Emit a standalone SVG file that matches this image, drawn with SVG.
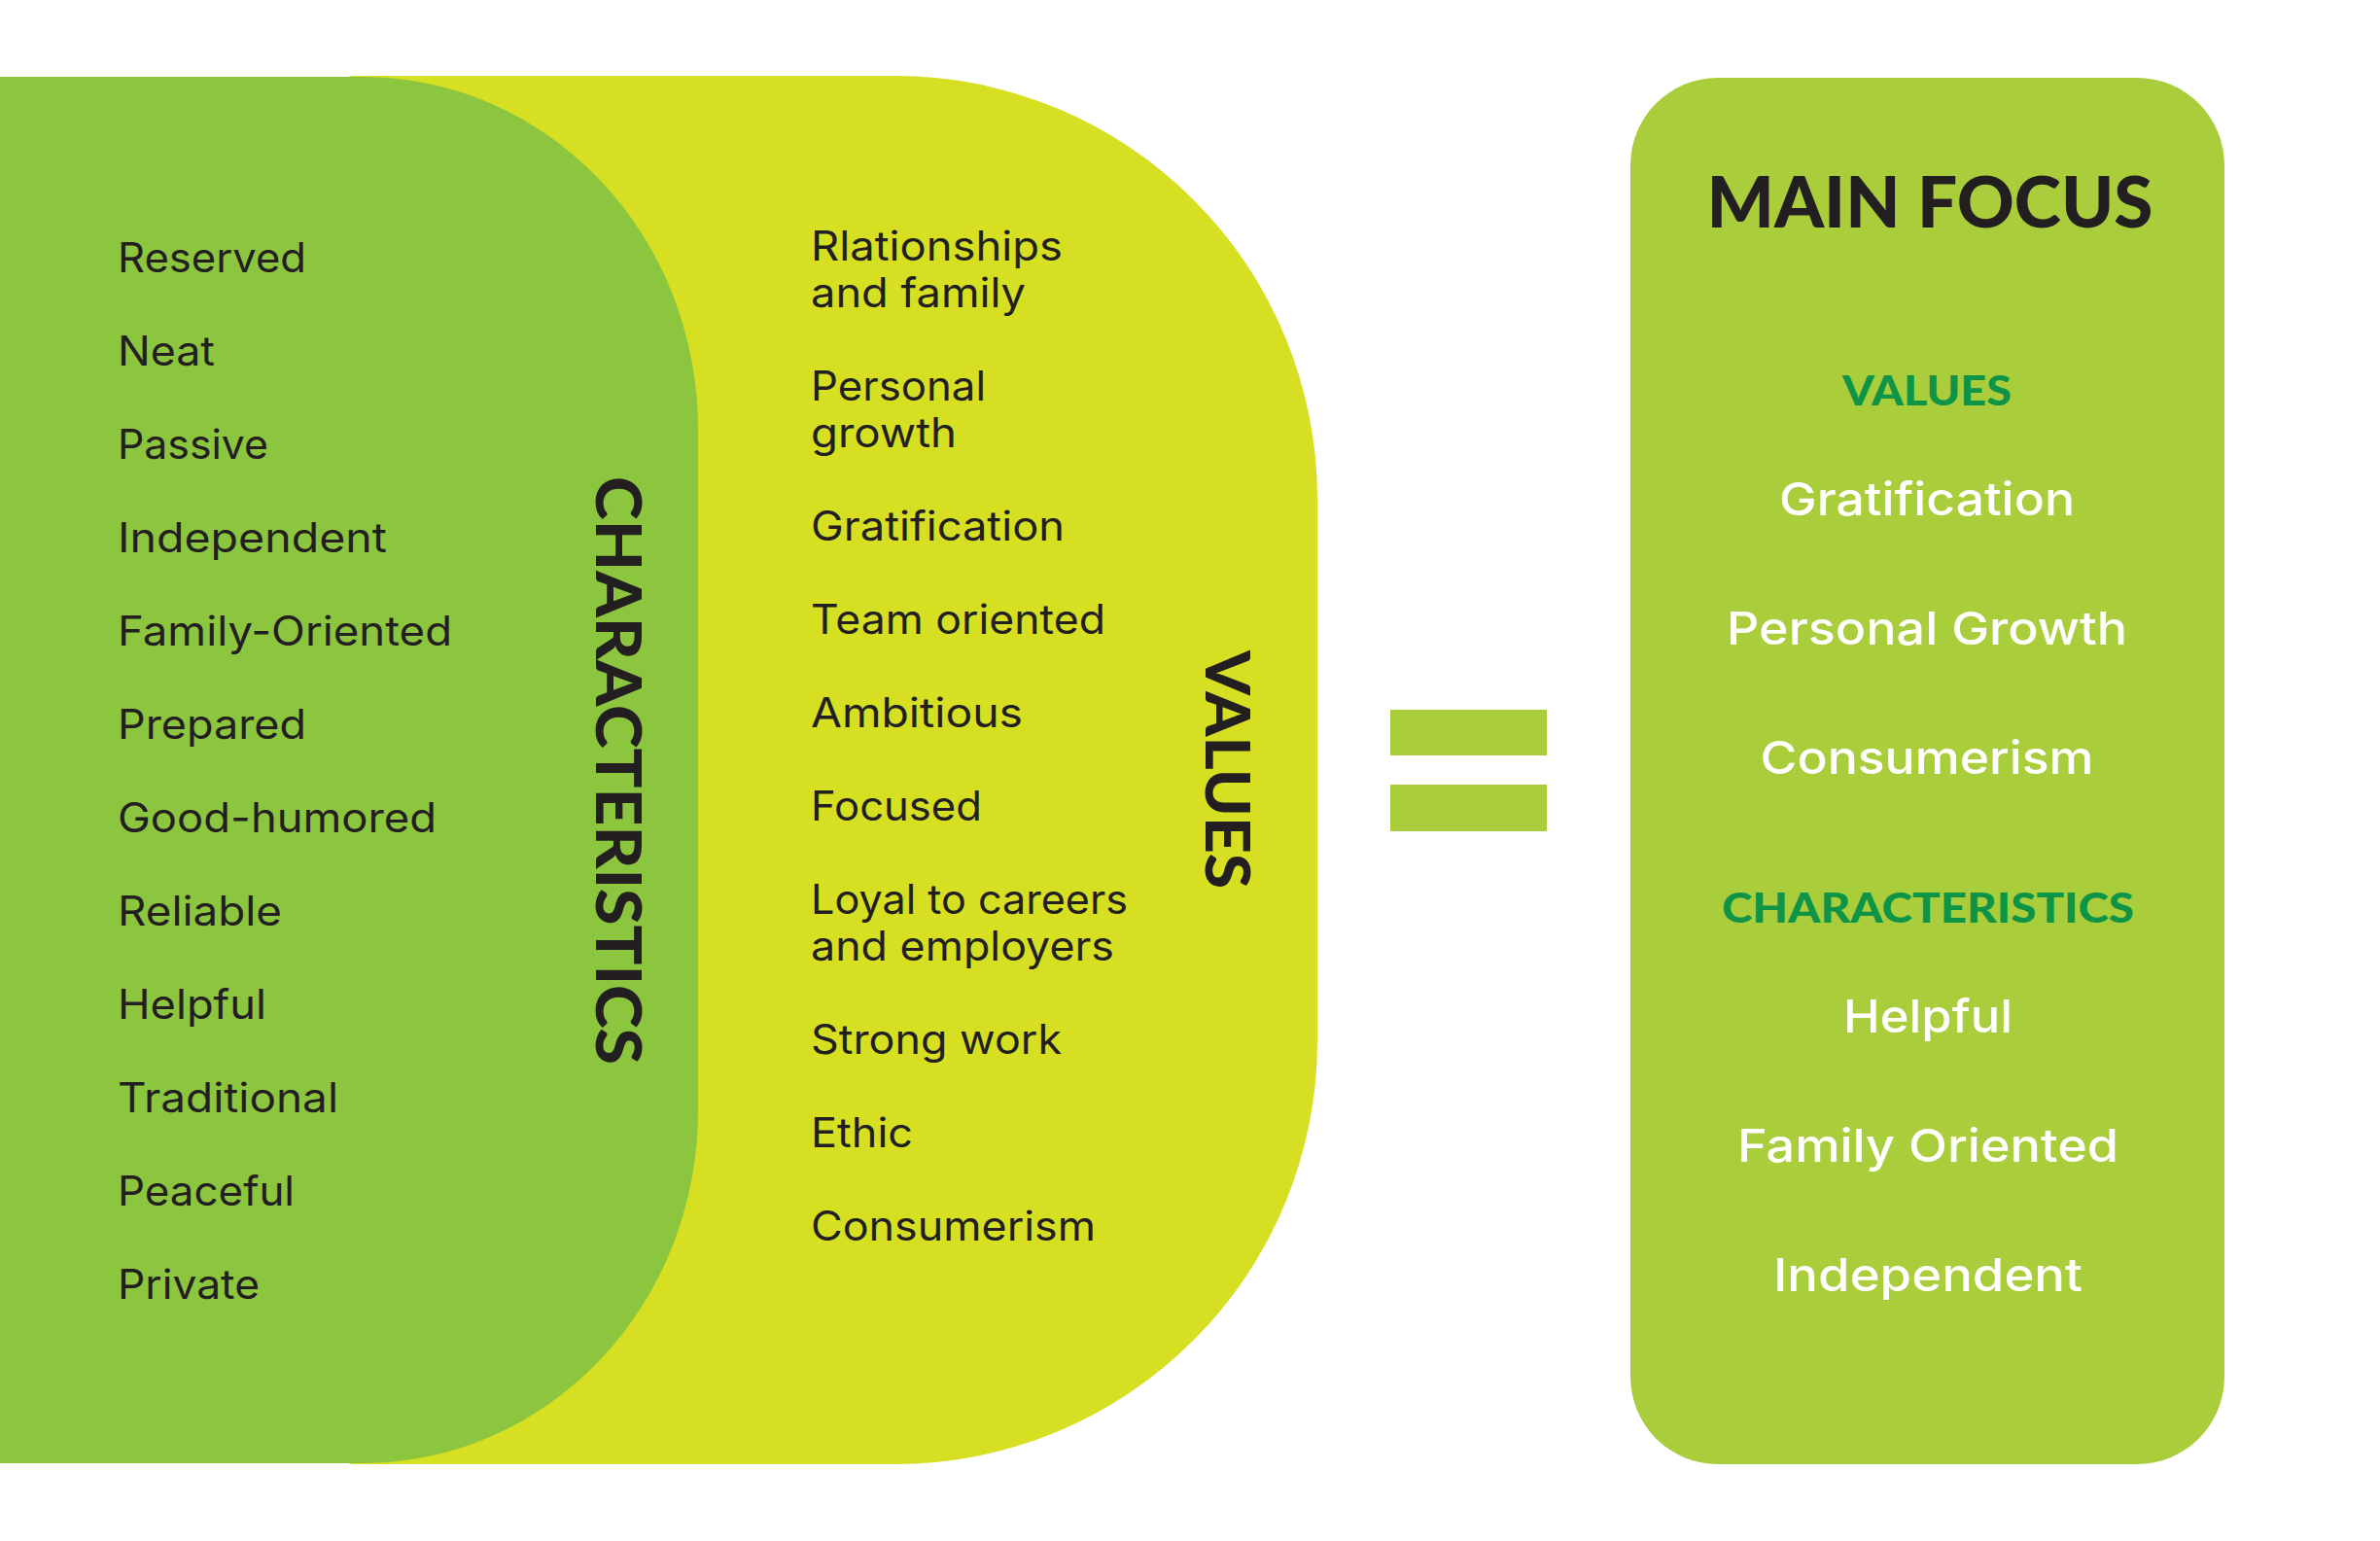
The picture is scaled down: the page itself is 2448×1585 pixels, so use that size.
<svg xmlns="http://www.w3.org/2000/svg" width="2448" height="1585" viewBox="0 0 2448 1585">
  <style>
    .body { font-family: Inter, "Noto Sans", "DejaVu Sans", sans-serif; font-size: 42px; font-weight: 400; fill: #231F20; }
    .wbody { font-family: Inter, "Noto Sans", "DejaVu Sans", sans-serif; font-size: 47px; font-weight: 500; fill: #FFFFFF; text-anchor: middle; }
    .head { font-family: Lato, "DejaVu Sans", sans-serif; font-weight: 900; fill: #231F20; }
    .ghead { font-family: Lato, "DejaVu Sans", sans-serif; font-weight: 900; font-size: 42px; fill: #0E9447; text-anchor: middle; }
  </style>
  <rect width="2448" height="1585" fill="#FFFFFF"/>

  <g id="values-shape">
    <path d="M360,78 H920 A435,435 0 0 1 1355,513 V1071 A435,435 0 0 1 920,1506 H360 Z" fill="#D6DF22"/>
  </g>

  <g id="characteristics-shape">
    <path d="M0,79 H373 A345,362 0 0 1 718,441 V1143 A345,362 0 0 1 373,1505 H0 Z" fill="#8CC63F"/>
  </g>

  <g id="characteristics-list">
    <text class="body" x="121" y="280" textLength="194" lengthAdjust="spacingAndGlyphs">Reserved</text>
    <text class="body" x="121" y="376" textLength="100" lengthAdjust="spacingAndGlyphs">Neat</text>
    <text class="body" x="121" y="472" textLength="155" lengthAdjust="spacingAndGlyphs">Passive</text>
    <text class="body" x="121" y="568" textLength="277" lengthAdjust="spacingAndGlyphs">Independent</text>
    <text class="body" x="121" y="664" textLength="344" lengthAdjust="spacingAndGlyphs">Family-Oriented</text>
    <text class="body" x="121" y="760" textLength="194" lengthAdjust="spacingAndGlyphs">Prepared</text>
    <text class="body" x="121" y="856" textLength="328" lengthAdjust="spacingAndGlyphs">Good-humored</text>
    <text class="body" x="121" y="952" textLength="169" lengthAdjust="spacingAndGlyphs">Reliable</text>
    <text class="body" x="121" y="1048" textLength="153" lengthAdjust="spacingAndGlyphs">Helpful</text>
    <text class="body" x="121" y="1144" textLength="227" lengthAdjust="spacingAndGlyphs">Traditional</text>
    <text class="body" x="121" y="1240" textLength="182" lengthAdjust="spacingAndGlyphs">Peaceful</text>
    <text class="body" x="121" y="1336" textLength="146" lengthAdjust="spacingAndGlyphs">Private</text>
  </g>

  <g id="characteristics-label">
    <text class="head" font-size="64" text-anchor="middle" transform="translate(613,792.5) rotate(90)" textLength="605" lengthAdjust="spacingAndGlyphs">CHARACTERISTICS</text>
  </g>

  <g id="values-list">
    <text class="body" x="834" y="268" textLength="259" lengthAdjust="spacingAndGlyphs">Rlationships</text>
    <text class="body" x="834" y="316" textLength="221" lengthAdjust="spacingAndGlyphs">and family</text>
    <text class="body" x="834" y="412" textLength="180" lengthAdjust="spacingAndGlyphs">Personal</text>
    <text class="body" x="834" y="460" textLength="150" lengthAdjust="spacingAndGlyphs">growth</text>
    <text class="body" x="834" y="556" textLength="261" lengthAdjust="spacingAndGlyphs">Gratification</text>
    <text class="body" x="834" y="652" textLength="303" lengthAdjust="spacingAndGlyphs">Team oriented</text>
    <text class="body" x="834" y="748" textLength="218" lengthAdjust="spacingAndGlyphs">Ambitious</text>
    <text class="body" x="834" y="844" textLength="176" lengthAdjust="spacingAndGlyphs">Focused</text>
    <text class="body" x="834" y="940" textLength="326" lengthAdjust="spacingAndGlyphs">Loyal to careers</text>
    <text class="body" x="834" y="988" textLength="312" lengthAdjust="spacingAndGlyphs">and employers</text>
    <text class="body" x="834" y="1084" textLength="258" lengthAdjust="spacingAndGlyphs">Strong work</text>
    <text class="body" x="834" y="1180" textLength="105" lengthAdjust="spacingAndGlyphs">Ethic</text>
    <text class="body" x="834" y="1276" textLength="293" lengthAdjust="spacingAndGlyphs">Consumerism</text>
  </g>

  <g id="values-label">
    <text class="head" font-size="63" text-anchor="middle" transform="translate(1240,791.5) rotate(90)" textLength="245" lengthAdjust="spacingAndGlyphs">VALUES</text>
  </g>

  <g id="equals-sign" fill="#AACD3B">
    <rect x="1430" y="730" width="161" height="47"/>
    <rect x="1430" y="807" width="161" height="48"/>
  </g>

  <g id="main-focus">
    <rect x="1677" y="80" width="611" height="1426" rx="90" ry="90" fill="#AACD3B"/>
    <text class="head" font-size="72" text-anchor="middle" x="1985" y="234" textLength="459" lengthAdjust="spacingAndGlyphs">MAIN FOCUS</text>
    <text class="ghead" x="1982" y="417" textLength="174" lengthAdjust="spacingAndGlyphs">VALUES</text>
    <text class="wbody" x="1982" y="530" textLength="304" lengthAdjust="spacingAndGlyphs">Gratification</text>
    <text class="wbody" x="1982" y="663" textLength="412" lengthAdjust="spacingAndGlyphs">Personal Growth</text>
    <text class="wbody" x="1982" y="796" textLength="343" lengthAdjust="spacingAndGlyphs">Consumerism</text>
    <text class="ghead" x="1983" y="949" textLength="424" lengthAdjust="spacingAndGlyphs">CHARACTERISTICS</text>
    <text class="wbody" x="1983" y="1062" textLength="174" lengthAdjust="spacingAndGlyphs">Helpful</text>
    <text class="wbody" x="1983" y="1195" textLength="392" lengthAdjust="spacingAndGlyphs">Family Oriented</text>
    <text class="wbody" x="1983" y="1328" textLength="318" lengthAdjust="spacingAndGlyphs">Independent</text>
  </g>
</svg>
